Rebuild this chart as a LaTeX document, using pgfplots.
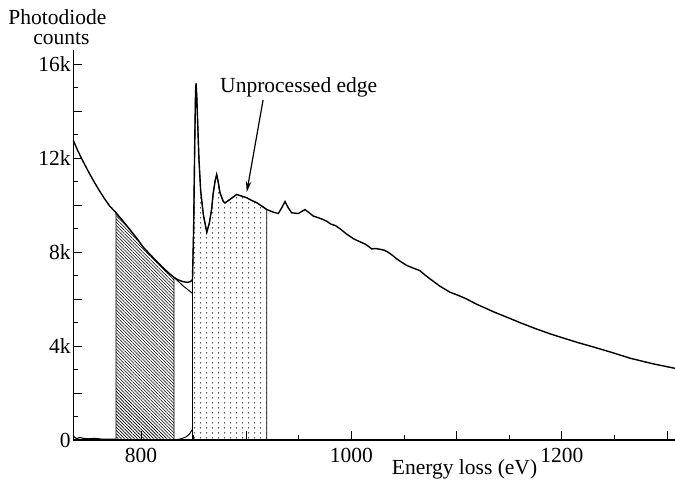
\documentclass[border=0pt]{standalone}
\usepackage{fontspec}
\setmainfont{Liberation Serif}
\usepackage{pgfplots}
\pgfplotsset{compat=1.18}
\usetikzlibrary{patterns,patterns.meta,arrows.meta}

% sparse dot fill for the edge window
\pgfdeclarepatternformonly{sparse dots}{\pgfpointorigin}{\pgfqpoint{6bp}{5bp}}{\pgfqpoint{6bp}{5bp}}{%
  \pgfpathcircle{\pgfqpoint{3bp}{2.5bp}}{0.8bp}\pgfusepath{fill}}

\begin{document}
\begin{tikzpicture}
\fontsize{21.5bp}{22bp}\selectfont
\useasboundingbox (-73.3bp,-40bp) rectangle (601.7bp,440bp);
\begin{axis}[
  at={(0,0)}, anchor=south west,
  scale only axis, width=601.7bp, height=390bp,
  xmin=735.6, xmax=1307.6, ymin=0, ymax=16600,
  axis x line*=bottom, axis y line*=left,
  axis line style={line width=1.3bp},
  tick align=inside,
  scaled x ticks=false, scaled y ticks=false,
  xtick={800,900,...,1300}, xticklabels={800,,1000,,1200,},
  minor xtick={850,950,...,1250},
  ytick={0,2000,...,16000}, yticklabels={0,,4k,,8k,,12k,,16k},
  minor ytick={1000,3000,...,15000},
  major tick length=9bp, minor tick length=5bp,
  tick style={black, line width=0.9bp},
  xticklabel style={inner sep=0pt, anchor=north, yshift=-8bp},
  yticklabel style={inner sep=0pt, anchor=east, xshift=-2.5bp},
  clip=false,
]
% pre-edge background window
\addplot[draw=black, line width=0.8bp,
  pattern={Lines[angle=-45, distance=2.3bp, line width=0.6bp]}] coordinates {
 (776.2,9670) (785,9200) (795,8640) (802,8210) (810,7830) (820,7370) (826,7120) (831.4,6920)
} \closedcycle;
% edge window
\addplot[draw=black, line width=0.8bp, pattern=sparse dots] coordinates {
 (848.9,6820) (850.0,9000) (851.0,12500) (851.8,14800) (852.3,15180) (853.0,14600)
 (854.0,13300) (855.0,12000) (856.7,10600) (859.2,9600) (862.5,8840) (865,9250)
 (867,9800) (868.6,10500) (870.5,11050) (871.9,11300) (873.5,10950) (875,10530)
 (878.2,10150) (879.8,10090) (884.5,10240) (890.9,10450) (895.7,10380) (900.5,10310)
 (905,10200) (910,10100) (915,9950) (919.5,9810)
} \closedcycle;
% extrapolated background
\addplot[black, line width=1bp] coordinates {(831.4,6920) (840,6560) (848.9,6240)};
% stripped spectrum near zero
\addplot[black, line width=1.1bp] coordinates {
 (735.6,200) (736.5,120) (739,60) (742,110) (745,70) (750,50) (756,70) (762,40) (770,30) (776.2,30)
};
\addplot[black, line width=1bp] coordinates {
 (831.4,0) (836,30) (840,80) (843,140) (846,250) (848.9,450)
};
% measured spectrum
\addplot[black, line width=1.4bp] coordinates {
 (735.6,12750) (740,12300) (745,11850) (750,11420) (755,11020) (760,10640) (765,10290)
 (770,9970) (776,9680) (785,9200) (795,8640) (802,8210) (810,7830) (820,7370) (826,7120)
 (831,6930) (835,6820) (840,6740) (844,6710) (847,6740) (848.9,6820) (850.0,9000)
 (851.0,12500) (851.8,14800) (852.3,15180) (853.0,14600) (854.0,13300) (855.0,12000)
 (856.7,10600) (859.2,9600) (862.5,8840) (865,9250) (867,9800) (868.6,10500) (870.5,11050)
 (871.9,11300) (873.5,10950) (875,10530) (878.2,10150) (879.8,10090) (884.5,10240)
 (890.9,10450) (895.7,10380) (900.5,10310) (905,10200) (910,10100) (915,9950) (919.5,9810)
 (925.7,9700) (930.5,9640) (933.7,9880) (936.9,10150) (940,9880) (943.2,9670) (949.5,9640)
 (955.9,9810) (959,9700) (963.8,9530) (968,9470) (973.3,9380) (977,9300) (980,9200)
 (985,9120) (989.2,8990) (995,8780) (1001.8,8570) (1005,8500) (1008,8440) (1013,8340)
 (1016,8250) (1019.3,8130) (1023,8150) (1027,8120) (1031,8080) (1035,7990) (1039,7860)
 (1043,7710) (1048,7560) (1052.6,7430) (1058,7330) (1065,7210) (1070,7020) (1074.7,6860)
 (1084,6550) (1093.7,6290) (1102,6150) (1110,5990) (1118,5800) (1125,5660) (1136,5440)
 (1147.6,5230) (1160,5000) (1175,4740) (1188.8,4520) (1200,4360) (1215,4150) (1230,3960)
 (1248,3720) (1265,3480) (1287,3240) (1307.6,3050)
};
% annotation
\node[anchor=base west, inner sep=0pt] at (axis cs:875.1,14810) {Unprocessed edge};
\draw[line width=1.2bp, -{Stealth[length=11bp,width=5.5bp]}] (axis cs:916,14470) -- (axis cs:900.5,10550);
% axis titles
\node[anchor=base, inner sep=0pt] at (axis description cs:-0.0263,1.066) {Photodiode};
\node[anchor=base, inner sep=0pt] at (axis description cs:-0.0196,1.015) {counts};
\node[anchor=base, inner sep=0pt] at (axis description cs:0.6502,-0.0872) {Energy loss (eV)};
\end{axis}
\end{tikzpicture}
\end{document}
